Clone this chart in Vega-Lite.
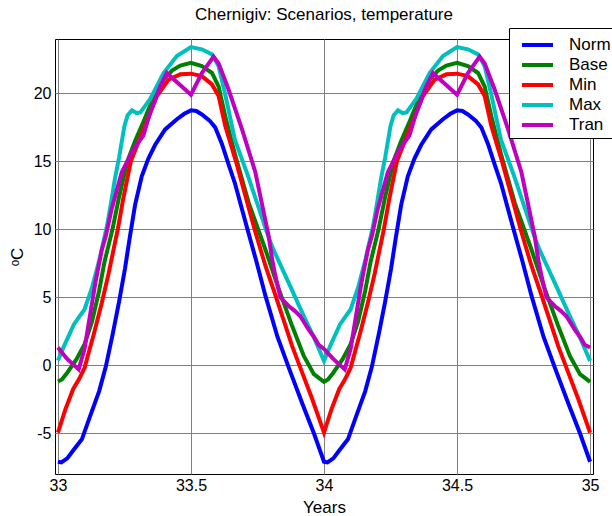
{
"$schema": "https://vega.github.io/schema/vega-lite/v6.json",
"width": 538, "height": 435,
"autosize": {"type": "none"},
"padding": {"left": 55, "top": 39, "right": 19, "bottom": 42},
"background": "white",
"config": {"font": "Liberation Sans", "view": {"stroke": "black", "strokeWidth": 1}},
"title": {"text": "Chernigiv: Scenarios, temperature", "fontSize": 17, "fontWeight": "normal", "color": "black", "offset": 4, "anchor": "middle", "font": "Liberation Sans"},
"datasets": {
"t": [
{"s":"Norm","x":33,"y":-7.1},{"s":"Norm","x":33.013,"y":-7.15},{"s":"Norm","x":33.035,"y":-6.85},{"s":"Norm","x":33.06,"y":-6.2},{"s":"Norm","x":33.09,"y":-5.45},{"s":"Norm","x":33.12,"y":-3.8},{"s":"Norm","x":33.155,"y":-1.9},{"s":"Norm","x":33.18,"y":-0.1},{"s":"Norm","x":33.207,"y":2.4},{"s":"Norm","x":33.23,"y":4.7},{"s":"Norm","x":33.252,"y":7.1},{"s":"Norm","x":33.27,"y":9.4},{"s":"Norm","x":33.29,"y":11.8},{"s":"Norm","x":33.315,"y":13.9},{"s":"Norm","x":33.34,"y":15.2},{"s":"Norm","x":33.365,"y":16.2},{"s":"Norm","x":33.403,"y":17.35},{"s":"Norm","x":33.447,"y":18.1},{"s":"Norm","x":33.475,"y":18.5},{"s":"Norm","x":33.5,"y":18.75},{"s":"Norm","x":33.52,"y":18.7},{"s":"Norm","x":33.541,"y":18.45},{"s":"Norm","x":33.57,"y":18.0},{"s":"Norm","x":33.591,"y":17.5},{"s":"Norm","x":33.616,"y":16.3},{"s":"Norm","x":33.641,"y":14.8},{"s":"Norm","x":33.665,"y":13.4},{"s":"Norm","x":33.69,"y":11.6},{"s":"Norm","x":33.711,"y":10.1},{"s":"Norm","x":33.745,"y":7.7},{"s":"Norm","x":33.78,"y":5.1},{"s":"Norm","x":33.825,"y":2.1},{"s":"Norm","x":33.87,"y":-0.3},{"s":"Norm","x":33.918,"y":-2.8},{"s":"Norm","x":33.962,"y":-5.0},{"s":"Norm","x":34,"y":-7.1},
{"s":"Norm","x":34.013,"y":-7.15},{"s":"Norm","x":34.035,"y":-6.85},{"s":"Norm","x":34.06,"y":-6.2},{"s":"Norm","x":34.09,"y":-5.45},{"s":"Norm","x":34.12,"y":-3.8},{"s":"Norm","x":34.155,"y":-1.9},{"s":"Norm","x":34.18,"y":-0.1},{"s":"Norm","x":34.207,"y":2.4},{"s":"Norm","x":34.23,"y":4.7},{"s":"Norm","x":34.252,"y":7.1},{"s":"Norm","x":34.27,"y":9.4},{"s":"Norm","x":34.29,"y":11.8},{"s":"Norm","x":34.315,"y":13.9},{"s":"Norm","x":34.34,"y":15.2},{"s":"Norm","x":34.365,"y":16.2},{"s":"Norm","x":34.403,"y":17.35},{"s":"Norm","x":34.447,"y":18.1},{"s":"Norm","x":34.475,"y":18.5},{"s":"Norm","x":34.5,"y":18.75},{"s":"Norm","x":34.52,"y":18.7},{"s":"Norm","x":34.541,"y":18.45},{"s":"Norm","x":34.57,"y":18.0},{"s":"Norm","x":34.591,"y":17.5},{"s":"Norm","x":34.616,"y":16.3},{"s":"Norm","x":34.641,"y":14.8},{"s":"Norm","x":34.665,"y":13.4},{"s":"Norm","x":34.69,"y":11.6},{"s":"Norm","x":34.711,"y":10.1},{"s":"Norm","x":34.745,"y":7.7},{"s":"Norm","x":34.78,"y":5.1},{"s":"Norm","x":34.825,"y":2.1},{"s":"Norm","x":34.87,"y":-0.3},{"s":"Norm","x":34.918,"y":-2.8},{"s":"Norm","x":34.962,"y":-5.0},{"s":"Norm","x":35,"y":-7.1},

{"s":"Base","x":33,"y":-1.2},{"s":"Base","x":33.015,"y":-1.05},{"s":"Base","x":33.035,"y":-0.55},{"s":"Base","x":33.07,"y":0.45},{"s":"Base","x":33.1,"y":1.55},{"s":"Base","x":33.128,"y":3.2},{"s":"Base","x":33.155,"y":5.5},{"s":"Base","x":33.175,"y":7.6},{"s":"Base","x":33.19,"y":8.8},{"s":"Base","x":33.205,"y":10.0},{"s":"Base","x":33.23,"y":12.4},{"s":"Base","x":33.261,"y":15.0},{"s":"Base","x":33.29,"y":16.5},{"s":"Base","x":33.321,"y":17.9},{"s":"Base","x":33.365,"y":20.0},{"s":"Base","x":33.4,"y":21.1},{"s":"Base","x":33.43,"y":21.7},{"s":"Base","x":33.46,"y":22.05},{"s":"Base","x":33.5,"y":22.25},{"s":"Base","x":33.541,"y":22.0},{"s":"Base","x":33.579,"y":21.5},{"s":"Base","x":33.604,"y":20.5},{"s":"Base","x":33.629,"y":18.3},{"s":"Base","x":33.667,"y":15.4},{"s":"Base","x":33.717,"y":11.95},{"s":"Base","x":33.78,"y":8.5},{"s":"Base","x":33.83,"y":5.6},{"s":"Base","x":33.88,"y":2.9},{"s":"Base","x":33.924,"y":0.68},{"s":"Base","x":33.962,"y":-0.66},{"s":"Base","x":34,"y":-1.22},
{"s":"Base","x":34.015,"y":-1.05},{"s":"Base","x":34.035,"y":-0.55},{"s":"Base","x":34.07,"y":0.45},{"s":"Base","x":34.1,"y":1.55},{"s":"Base","x":34.128,"y":3.2},{"s":"Base","x":34.155,"y":5.5},{"s":"Base","x":34.175,"y":7.6},{"s":"Base","x":34.19,"y":8.8},{"s":"Base","x":34.205,"y":10.0},{"s":"Base","x":34.23,"y":12.4},{"s":"Base","x":34.261,"y":15.0},{"s":"Base","x":34.29,"y":16.5},{"s":"Base","x":34.321,"y":17.9},{"s":"Base","x":34.365,"y":20.0},{"s":"Base","x":34.4,"y":21.1},{"s":"Base","x":34.43,"y":21.7},{"s":"Base","x":34.46,"y":22.05},{"s":"Base","x":34.5,"y":22.25},{"s":"Base","x":34.541,"y":22.0},{"s":"Base","x":34.579,"y":21.5},{"s":"Base","x":34.604,"y":20.5},{"s":"Base","x":34.629,"y":18.3},{"s":"Base","x":34.667,"y":15.4},{"s":"Base","x":34.717,"y":11.95},{"s":"Base","x":34.78,"y":8.5},{"s":"Base","x":34.83,"y":5.6},{"s":"Base","x":34.88,"y":2.9},{"s":"Base","x":34.924,"y":0.68},{"s":"Base","x":34.962,"y":-0.66},{"s":"Base","x":35,"y":-1.22},

{"s":"Min","x":33,"y":-4.95},{"s":"Min","x":33.028,"y":-3.24},{"s":"Min","x":33.057,"y":-1.76},{"s":"Min","x":33.08,"y":-1.0},{"s":"Min","x":33.1,"y":-0.2},{"s":"Min","x":33.118,"y":1.1},{"s":"Min","x":33.135,"y":2.3},{"s":"Min","x":33.165,"y":4.6},{"s":"Min","x":33.19,"y":6.7},{"s":"Min","x":33.21,"y":8.6},{"s":"Min","x":33.225,"y":10.0},{"s":"Min","x":33.245,"y":12.2},{"s":"Min","x":33.274,"y":15.0},{"s":"Min","x":33.3,"y":16.3},{"s":"Min","x":33.321,"y":17.35},{"s":"Min","x":33.35,"y":18.7},{"s":"Min","x":33.372,"y":19.8},{"s":"Min","x":33.415,"y":21.0},{"s":"Min","x":33.46,"y":21.4},{"s":"Min","x":33.5,"y":21.45},{"s":"Min","x":33.541,"y":21.27},{"s":"Min","x":33.579,"y":20.66},{"s":"Min","x":33.604,"y":19.8},{"s":"Min","x":33.629,"y":17.6},{"s":"Min","x":33.669,"y":15.0},{"s":"Min","x":33.739,"y":10.0},{"s":"Min","x":33.78,"y":7.3},{"s":"Min","x":33.82,"y":5.0},{"s":"Min","x":33.843,"y":3.63},{"s":"Min","x":33.88,"y":1.42},{"s":"Min","x":33.918,"y":-0.54},{"s":"Min","x":33.956,"y":-2.5},{"s":"Min","x":34,"y":-4.95},
{"s":"Min","x":34.028,"y":-3.24},{"s":"Min","x":34.057,"y":-1.76},{"s":"Min","x":34.08,"y":-1.0},{"s":"Min","x":34.1,"y":-0.2},{"s":"Min","x":34.118,"y":1.1},{"s":"Min","x":34.135,"y":2.3},{"s":"Min","x":34.165,"y":4.6},{"s":"Min","x":34.19,"y":6.7},{"s":"Min","x":34.21,"y":8.6},{"s":"Min","x":34.225,"y":10.0},{"s":"Min","x":34.245,"y":12.2},{"s":"Min","x":34.274,"y":15.0},{"s":"Min","x":34.3,"y":16.3},{"s":"Min","x":34.321,"y":17.35},{"s":"Min","x":34.35,"y":18.7},{"s":"Min","x":34.372,"y":19.8},{"s":"Min","x":34.415,"y":21.0},{"s":"Min","x":34.46,"y":21.4},{"s":"Min","x":34.5,"y":21.45},{"s":"Min","x":34.541,"y":21.27},{"s":"Min","x":34.579,"y":20.66},{"s":"Min","x":34.604,"y":19.8},{"s":"Min","x":34.629,"y":17.6},{"s":"Min","x":34.669,"y":15.0},{"s":"Min","x":34.739,"y":10.0},{"s":"Min","x":34.78,"y":7.3},{"s":"Min","x":34.82,"y":5.0},{"s":"Min","x":34.843,"y":3.63},{"s":"Min","x":34.88,"y":1.42},{"s":"Min","x":34.918,"y":-0.54},{"s":"Min","x":34.956,"y":-2.5},{"s":"Min","x":35,"y":-4.95},

{"s":"Max","x":33,"y":0.35},{"s":"Max","x":33.025,"y":1.5},{"s":"Max","x":33.06,"y":3.0},{"s":"Max","x":33.085,"y":3.7},{"s":"Max","x":33.1,"y":4.1},{"s":"Max","x":33.128,"y":5.7},{"s":"Max","x":33.155,"y":7.7},{"s":"Max","x":33.17,"y":9.0},{"s":"Max","x":33.185,"y":10.3},{"s":"Max","x":33.2,"y":12.0},{"s":"Max","x":33.215,"y":13.8},{"s":"Max","x":33.23,"y":15.3},{"s":"Max","x":33.25,"y":17.6},{"s":"Max","x":33.262,"y":18.4},{"s":"Max","x":33.278,"y":18.75},{"s":"Max","x":33.295,"y":18.55},{"s":"Max","x":33.31,"y":18.6},{"s":"Max","x":33.347,"y":19.6},{"s":"Max","x":33.397,"y":21.5},{"s":"Max","x":33.447,"y":22.74},{"s":"Max","x":33.5,"y":23.4},{"s":"Max","x":33.541,"y":23.24},{"s":"Max","x":33.579,"y":22.87},{"s":"Max","x":33.604,"y":22.0},{"s":"Max","x":33.629,"y":19.9},{"s":"Max","x":33.665,"y":16.6},{"s":"Max","x":33.715,"y":13.9},{"s":"Max","x":33.79,"y":9.5},{"s":"Max","x":33.81,"y":8.5},{"s":"Max","x":33.867,"y":6.08},{"s":"Max","x":33.918,"y":3.87},{"s":"Max","x":33.962,"y":2.04},{"s":"Max","x":34,"y":0.32},
{"s":"Max","x":34.025,"y":1.5},{"s":"Max","x":34.06,"y":3.0},{"s":"Max","x":34.085,"y":3.7},{"s":"Max","x":34.1,"y":4.1},{"s":"Max","x":34.128,"y":5.7},{"s":"Max","x":34.155,"y":7.7},{"s":"Max","x":34.17,"y":9.0},{"s":"Max","x":34.185,"y":10.3},{"s":"Max","x":34.2,"y":12.0},{"s":"Max","x":34.215,"y":13.8},{"s":"Max","x":34.23,"y":15.3},{"s":"Max","x":34.25,"y":17.6},{"s":"Max","x":34.262,"y":18.4},{"s":"Max","x":34.278,"y":18.75},{"s":"Max","x":34.295,"y":18.55},{"s":"Max","x":34.31,"y":18.6},{"s":"Max","x":34.347,"y":19.6},{"s":"Max","x":34.397,"y":21.5},{"s":"Max","x":34.447,"y":22.74},{"s":"Max","x":34.5,"y":23.4},{"s":"Max","x":34.541,"y":23.24},{"s":"Max","x":34.579,"y":22.87},{"s":"Max","x":34.604,"y":22.0},{"s":"Max","x":34.629,"y":19.9},{"s":"Max","x":34.665,"y":16.6},{"s":"Max","x":34.715,"y":13.9},{"s":"Max","x":34.79,"y":9.5},{"s":"Max","x":34.81,"y":8.5},{"s":"Max","x":34.867,"y":6.08},{"s":"Max","x":34.918,"y":3.87},{"s":"Max","x":34.962,"y":2.04},{"s":"Max","x":35,"y":0.32},

{"s":"Tran","x":33,"y":1.3},{"s":"Tran","x":33.033,"y":0.5},{"s":"Tran","x":33.055,"y":0.1},{"s":"Tran","x":33.078,"y":-0.3},{"s":"Tran","x":33.1,"y":1.2},{"s":"Tran","x":33.12,"y":3.6},{"s":"Tran","x":33.141,"y":6.1},{"s":"Tran","x":33.165,"y":8.5},{"s":"Tran","x":33.18,"y":9.5},{"s":"Tran","x":33.202,"y":11.5},{"s":"Tran","x":33.24,"y":14.2},{"s":"Tran","x":33.284,"y":15.9},{"s":"Tran","x":33.321,"y":16.9},{"s":"Tran","x":33.347,"y":18.6},{"s":"Tran","x":33.384,"y":20.5},{"s":"Tran","x":33.409,"y":21.5},{"s":"Tran","x":33.5,"y":19.9},{"s":"Tran","x":33.541,"y":21.5},{"s":"Tran","x":33.585,"y":22.7},{"s":"Tran","x":33.604,"y":22.2},{"s":"Tran","x":33.641,"y":20.3},{"s":"Tran","x":33.692,"y":17.35},{"s":"Tran","x":33.742,"y":14.2},{"s":"Tran","x":33.792,"y":9.5},{"s":"Tran","x":33.805,"y":7.8},{"s":"Tran","x":33.817,"y":6.6},{"s":"Tran","x":33.836,"y":5.0},{"s":"Tran","x":33.867,"y":4.36},{"s":"Tran","x":33.89,"y":4.0},{"s":"Tran","x":33.911,"y":3.6},{"s":"Tran","x":33.943,"y":2.6},{"s":"Tran","x":33.962,"y":2.1},{"s":"Tran","x":33.98,"y":1.5},{"s":"Tran","x":34,"y":1.2},
{"s":"Tran","x":34.033,"y":0.5},{"s":"Tran","x":34.055,"y":0.1},{"s":"Tran","x":34.078,"y":-0.3},{"s":"Tran","x":34.1,"y":1.2},{"s":"Tran","x":34.12,"y":3.6},{"s":"Tran","x":34.141,"y":6.1},{"s":"Tran","x":34.165,"y":8.5},{"s":"Tran","x":34.18,"y":9.5},{"s":"Tran","x":34.202,"y":11.5},{"s":"Tran","x":34.24,"y":14.2},{"s":"Tran","x":34.284,"y":15.9},{"s":"Tran","x":34.321,"y":16.9},{"s":"Tran","x":34.347,"y":18.6},{"s":"Tran","x":34.384,"y":20.5},{"s":"Tran","x":34.409,"y":21.5},{"s":"Tran","x":34.5,"y":19.9},{"s":"Tran","x":34.541,"y":21.5},{"s":"Tran","x":34.585,"y":22.7},{"s":"Tran","x":34.604,"y":22.2},{"s":"Tran","x":34.641,"y":20.3},{"s":"Tran","x":34.692,"y":17.35},{"s":"Tran","x":34.742,"y":14.2},{"s":"Tran","x":34.792,"y":9.5},{"s":"Tran","x":34.805,"y":7.8},{"s":"Tran","x":34.817,"y":6.6},{"s":"Tran","x":34.836,"y":5.0},{"s":"Tran","x":34.867,"y":4.36},{"s":"Tran","x":34.89,"y":4.0},{"s":"Tran","x":34.911,"y":3.6},{"s":"Tran","x":34.943,"y":2.6},{"s":"Tran","x":34.962,"y":2.1},{"s":"Tran","x":34.98,"y":1.5},{"s":"Tran","x":35,"y":1.3}
]
},
"data": {"name": "t"},
"mark": {"type": "line", "strokeWidth": 4, "clip": true},
"encoding": {
  "x": {"field": "x", "type": "quantitative",
    "scale": {"domain": [32.989, 35.011], "nice": false, "zero": false},
    "axis": {"values": [33, 33.5, 34, 34.5, 35], "labelExpr": "'' + datum.value", "title": "Years", "grid": true, "gridColor": "#808080", "gridOpacity": 1, "gridWidth": 1, "domain": false, "ticks": false, "labelFontSize": 16, "labelColor": "black", "labelPadding": 3, "labelFlush": false, "titleFontSize": 17, "titleFontWeight": "normal", "titleColor": "black", "titlePadding": 6}},
  "y": {"field": "y", "type": "quantitative",
    "scale": {"domain": [-8, 24], "nice": false, "zero": false},
    "axis": {"values": [-5, 0, 5, 10, 15, 20], "title": "ᵒC", "labelExpr": "datum.value < 0 ? '-' + abs(datum.value) : '' + datum.value", "grid": true, "gridColor": "#808080", "gridOpacity": 1, "gridWidth": 1, "domain": false, "ticks": false, "labelFontSize": 16, "labelColor": "black", "labelPadding": 4, "titleFontSize": 17, "titleFontWeight": "normal", "titleColor": "black", "titlePadding": 7}},
  "color": {"field": "s", "type": "nominal",
    "scale": {"domain": ["Norm", "Base", "Min", "Max", "Tran"], "range": ["#0000ff", "#008000", "#ff0000", "#00bfbf", "#bf00bf"]},
    "legend": {"orient": "none", "legendX": 454, "legendY": -11, "title": null, "symbolType": "M-0.4,0H2.7", "symbolSize": 400, "symbolStrokeWidth": 4, "labelFontSize": 17, "labelFont": "Liberation Sans", "labelColor": "black", "padding": 5, "rowPadding": 0, "labelOffset": 31, "labelLimit": 400, "strokeColor": "black", "fillColor": "white"}}
}
}
